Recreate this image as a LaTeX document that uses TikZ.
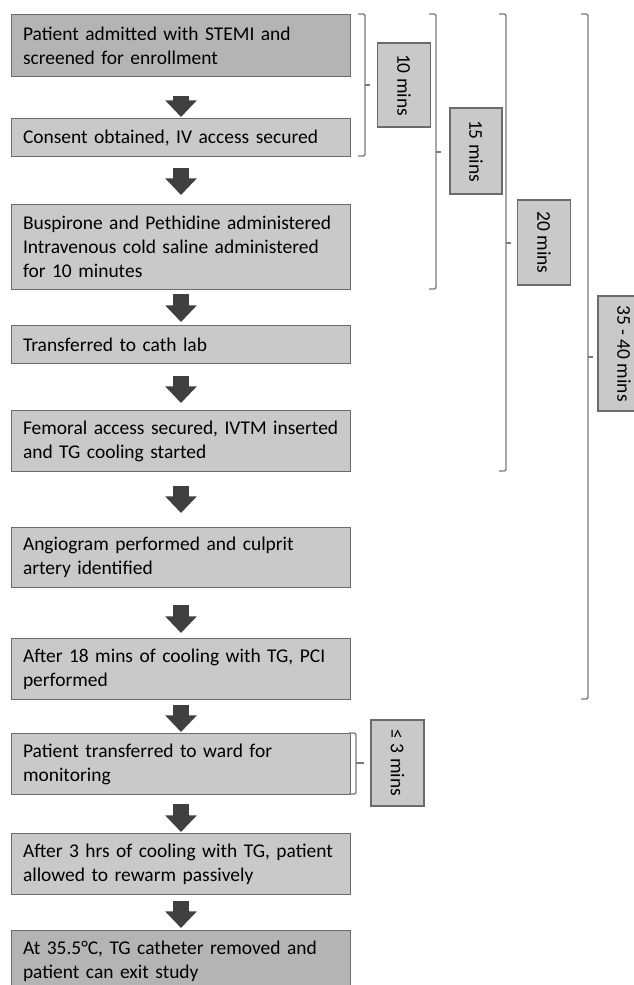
\documentclass[tikz,border=0pt]{standalone}
\usepackage{fontspec}
\setmainfont{Carlito}
\usepackage{xcolor}
\usetikzlibrary{arrows.meta, calc}

\definecolor{boxgray}{HTML}{C9C9C9}
\definecolor{darkbox}{HTML}{B4B4B4}
\definecolor{edgegray}{HTML}{6B6B6B}
\definecolor{arrowgray}{HTML}{404040}
\definecolor{bracegray}{HTML}{7A7A7A}

\begin{document}
\begin{tikzpicture}[x=0.75pt, y=-0.75pt,
  stepbox/.style={draw=edgegray, line width=1pt, fill=boxgray, anchor=north west,
    text width=237pt, inner xsep=8.5pt, inner ysep=0pt, align=left,
    font=\fontsize{14.6}{18}\selectfont},
  timebox/.style={draw=edgegray, line width=1pt, fill=boxgray, rotate=-90,
    inner sep=0pt, font=\fontsize{14.6}{18}\selectfont},
  downarrow/.style={line width=12pt, draw=arrowgray, -{Triangle[width=23pt, length=12.5pt]}},
  brace/.style={draw=bracegray, line width=1pt, rounded corners=1.5pt}]
\useasboundingbox (0,0) rectangle (634,985);

% Steps of the protocol
\node[stepbox, fill=darkbox, minimum height=46.5pt] (b1) at (11,14) {Patient admitted with STEMI and\\screened for enrollment};
\node[stepbox, minimum height=28.5pt] (b2) at (11,118) {Consent obtained, IV access secured};
\node[stepbox, minimum height=63.75pt] (b3) at (11,204) {Buspirone and Pethidine administered\\Intravenous cold saline administered\\for 10 minutes};
\node[stepbox, minimum height=28.5pt] (b4) at (11,325) {Transferred to cath lab};
\node[stepbox, minimum height=45.75pt] (b5) at (11,410) {Femoral access secured, IVTM inserted\\and TG cooling started};
\node[stepbox, minimum height=45pt] (b6) at (11,527) {Angiogram performed and culprit\\artery identified};
\node[stepbox, minimum height=45.75pt] (b7) at (11,638) {After 18 mins of cooling with TG, PCI\\performed};
\node[stepbox, minimum height=45.75pt] (b8) at (11,733) {Patient transferred to ward for\\monitoring};
\node[stepbox, minimum height=45.75pt] (b9) at (11,833) {After 3 hrs of cooling with TG, patient\\allowed to rewarm passively};
\node[stepbox, fill=darkbox, minimum height=45.75pt] (b10) at (11,930) {At 35.5°C, TG catheter removed and\\patient can exit study};

% Block arrows
\foreach \a/\b/\g/\h in {b1/b2/19/1, b2/b3/11/9, b3/b4/4/3, b4/b5/12/7, b5/b6/14/14,
    b6/b7/17/5, b7/b8/5/1, b8/b9/9/1, b9/b10/6/2}
  \draw[downarrow] ($(\a.south)+(0,\g)$) -- ($(\b.north)+(0,-\h)$);

% Time brackets
\foreach \x/\t/\b/\m in {365/14/156/85, 436/14/289/152, 506/14/471/243, 588/14/699/357} {
  \draw[brace] ({\x-7},\t) -- (\x,\t) -- (\x,\b) -- ({\x-7},\b);
  \draw[brace] (\x,\m) -- ({\x+5},\m);
}
\draw[brace] (349,733) -- (356,733) -- (356,794) -- (349,794);
\draw[brace] (356,763) -- (364,763);

% Time labels
\node[timebox, minimum width=63pt, minimum height=39.75pt] (t10) at (404,85) {10 mins};
\node[timebox, minimum width=64.5pt, minimum height=39pt] (t15) at (476,151) {15 mins};
\node[timebox, minimum width=63.75pt, minimum height=39.75pt] (t20) at (544,242.5) {20 mins};
\node[timebox, minimum width=86.25pt, minimum height=39pt] (t35) at (624,353.5) {35 - 40 mins};
\node[timebox, minimum width=64.5pt, minimum height=39.75pt] (t3) at (397.5,763) {≤ 3 mins};
\end{tikzpicture}
\end{document}
